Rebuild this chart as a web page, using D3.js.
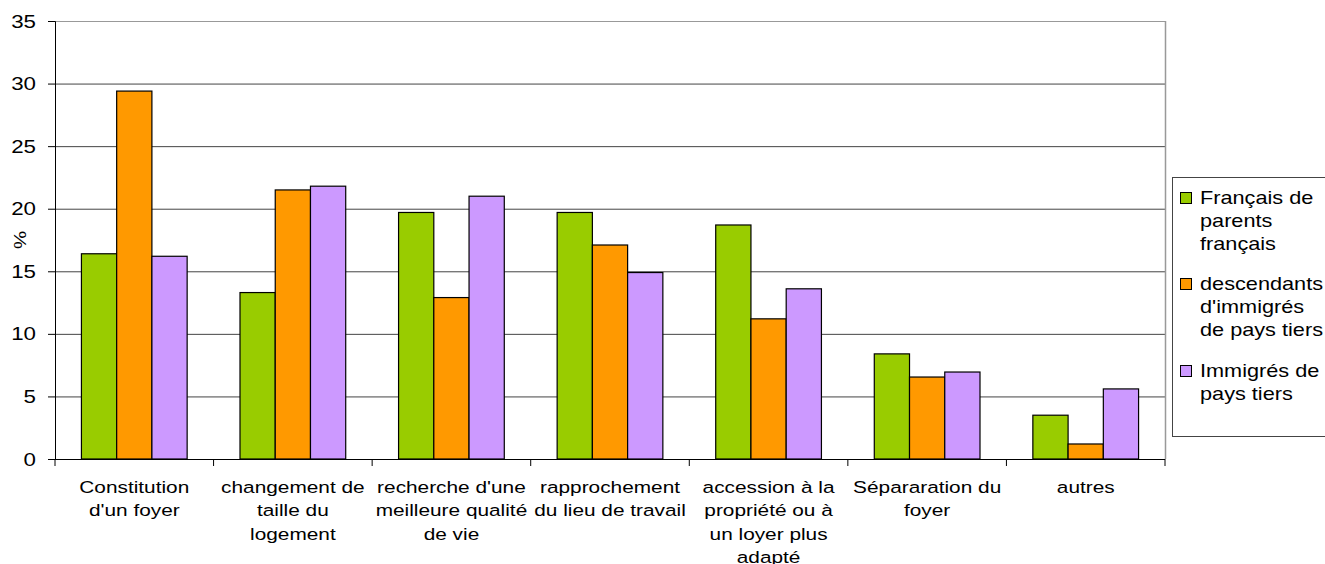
<!DOCTYPE html>
<html><head><meta charset="utf-8">
<script src="https://cdn.jsdelivr.net/npm/d3@7"></script>
<style>body{margin:0;background:#fff}svg{display:block}text{font-family:"Liberation Sans",Arial,sans-serif;fill:#000}</style>
</head><body>
<script>
const categories = [
  ["Constitution","d'un foyer"],
  ["changement de","taille du","logement"],
  ["recherche d'une","meilleure qualité","de vie"],
  ["rapprochement","du lieu de travail"],
  ["accession à la","propriété ou à","un loyer plus","adapté"],
  ["Sépararation du","foyer"],
  ["autres"]
];
const seriesNames = [["Français de","parents","français"],["descendants","d'immigrés","de pays tiers"],["Immigrés de","pays tiers"]];
const francais   = [16.4, 13.3, 19.7, 19.7, 18.7, 8.4, 3.5];
const descendants= [29.4, 21.5, 12.9, 17.1, 11.2, 6.55, 1.2];
const immigres   = [16.2, 21.8, 21.0, 14.9, 13.6, 6.95, 5.6];
const yTicks = [0,5,10,15,20,25,30,35];
const colors = ["#99CC00","#FF9900","#CC99FF"];
const series = [francais, descendants, immigres];

const W=1325,H=564;
const L=55,R=1165,T=21,B=459;
const SX=1.24;
const svg=d3.select("body").append("svg").attr("width",W).attr("height",H);
const x=d3.scaleBand().domain(d3.range(categories.length)).range([L,R]).paddingInner(0).paddingOuter(0);
const y=d3.scaleLinear().domain([0,35]).range([B,T]);
const bw=x.bandwidth()/4.5;

function txt(px,py,str,size,anchor){
  return svg.append("text").attr("transform",`translate(${px},${py}) scale(${SX},1)`)
    .attr("text-anchor",anchor||"start").style("font-size",size+"px").text(str);
}

// gridlines
svg.append("g").selectAll("line").data(yTicks.filter(d=>d>0)).join("line")
  .attr("x1",L).attr("x2",R).attr("y1",d=>y(d)+0.5).attr("y2",d=>y(d)+0.5)
  .attr("stroke",d=>d===35?"#999":"#444").attr("stroke-width",1);
// right border
svg.append("line").attr("x1",R+0.5).attr("x2",R+0.5).attr("y1",T).attr("y2",B).attr("stroke","#999").attr("stroke-width",1.5);

// bars
series.forEach((s,si)=>{
  svg.append("g").selectAll("rect").data(s).join("rect")
    .attr("x",(d,i)=>x(i)+0.75*bw+si*bw).attr("width",bw)
    .attr("y",d=>y(d)).attr("height",d=>y(0)-y(d))
    .attr("fill",colors[si]).attr("stroke","#000").attr("stroke-width",1.2);
});

// y axis
const ya=svg.append("g").attr("transform",`translate(${L},0)`)
  .call(d3.axisLeft(y).tickValues(yTicks).tickSize(7).tickFormat(""));
ya.select(".domain").attr("stroke","#000");
ya.selectAll("line").attr("stroke","#000");
yTicks.forEach(v=>txt(36,y(v)+6.5,String(v),18,"end"));

// x axis
svg.append("line").attr("x1",L).attr("x2",R).attr("y1",B+0.5).attr("y2",B+0.5).attr("stroke","#000");
svg.append("g").selectAll("line").data(d3.range(categories.length+1)).join("line")
  .attr("x1",i=>L+i*x.bandwidth()).attr("x2",i=>L+i*x.bandwidth())
  .attr("y1",B).attr("y2",B+7).attr("stroke","#000");

// category labels
categories.forEach((lines,i)=>{
  lines.forEach((ln,k)=>txt(x(i)+x.bandwidth()/2,493+k*23.3,ln,16.8,"middle"));
});

// y label
svg.append("text").attr("transform","translate(26,240) rotate(-90) scale(1.2,1)").attr("text-anchor","middle").style("font-size","17px").text("%");

// legend
svg.append("rect").attr("x",1172.5).attr("y",177.5).attr("width",170).attr("height",259).attr("fill","#fff").attr("stroke","#444").attr("stroke-width",1);
const ly=[204,290,377];
seriesNames.forEach((lines,si)=>{
  svg.append("rect").attr("x",1180.5).attr("y",ly[si]-11.5).attr("width",11).attr("height",11).attr("fill",colors[si]).attr("stroke","#000");
  lines.forEach((ln,k)=>txt(1200,ly[si]+k*23.2,ln,17.5,"start"));
});
</script>
</body></html>
